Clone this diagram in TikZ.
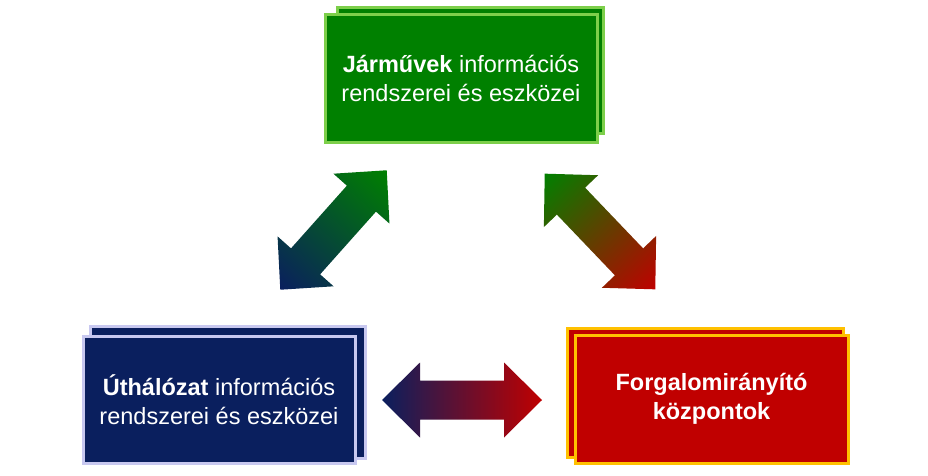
\documentclass[tikz,border=0pt]{standalone}
\usepackage{fontspec}
\setmainfont{Liberation Sans}
\definecolor{boxgreen}{HTML}{008000}
\definecolor{edgegreen}{HTML}{7DCF4A}
\definecolor{boxnavy}{HTML}{0A1F5E}
\definecolor{edgenavy}{HTML}{C8C8F0}
\definecolor{boxred}{HTML}{C00000}
\definecolor{edgegold}{HTML}{FFC000}
\tikzset{
  panel/.style={line width=3pt, minimum width=#1, inner sep=0pt, outer sep=0pt},
  panel/.default=0pt,
  label/.style={text=white, align=center, font=\fontsize{23.5}{29.5}\selectfont},
}
\newcommand\dblarrowshape{(-80,0) -- (-42,-37.5) -- (-42,-19.5) -- (42,-19.5) -- (42,-37.5) -- (80,0) -- (42,37.5) -- (42,19.5) -- (-42,19.5) -- (-42,37.5) -- cycle}
\begin{document}
\begin{tikzpicture}[x=1pt,y=-1pt]
\useasboundingbox[fill=white] (0,0) rectangle (928,476);
% top green
\draw[line width=3pt, draw=edgegreen, fill=boxgreen] (337,8) rectangle (603,133);
\node[draw=edgegreen, fill=boxgreen, line width=3pt, minimum width=272pt, minimum height=127pt, inner sep=0pt] (veh) at (461,78.5) {};
\node[label] (vehtxt) at (veh.center) {\textbf{Járművek} információs\\rendszerei és eszközei};
% bottom left navy
\draw[line width=3pt, draw=edgenavy, fill=boxnavy] (90,326) rectangle (365,458);
\node[draw=edgenavy, fill=boxnavy, line width=3pt, minimum width=272pt, minimum height=127pt, inner sep=0pt] (road) at (219,399.5) {};
\node[label] (roadtxt) at (road.center) {\textbf{Úthálózat} információs\\rendszerei és eszközei};
% bottom right red
\draw[line width=3pt, draw=edgegold, fill=boxred] (567,328) rectangle (843,457);
\node[draw=edgegold, fill=boxred, line width=3pt, minimum width=273pt, minimum height=128pt, inner sep=0pt] (ctrl) at (711.5,399) {};
\node[label, font=\bfseries\fontsize{23.5}{29.5}\selectfont] (ctrltxt) at (ctrl.center) {Forgalomirányító\\központok};
% arrows
\begin{scope}[transform canvas={shift={(333.5,230)}, rotate=48.3}]
  \shade[left color=boxnavy, right color=boxgreen] \dblarrowshape;
\end{scope}
\begin{scope}[transform canvas={shift={(600,231.5)}, rotate=-46.3}]
  \shade[left color=boxgreen, right color=boxred] \dblarrowshape;
\end{scope}
\begin{scope}[transform canvas={shift={(462,400)}}]
  \shade[left color=boxnavy, right color=boxred] \dblarrowshape;
\end{scope}
\end{tikzpicture}
\end{document}
